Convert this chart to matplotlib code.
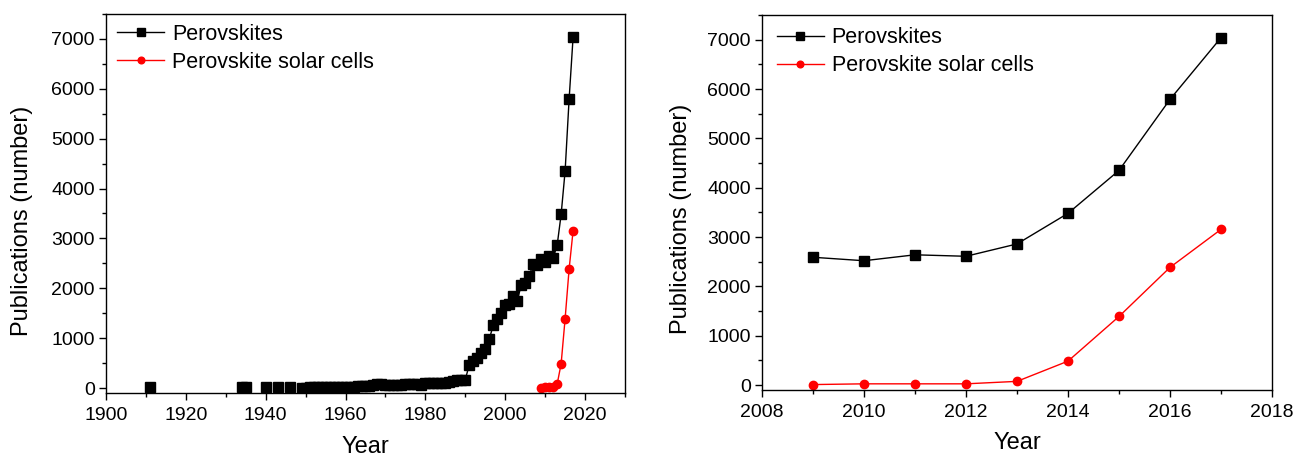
import matplotlib
matplotlib.use('Agg')
import matplotlib.pyplot as plt
from matplotlib.ticker import MultipleLocator

plt.rcParams['font.family'] = ['Liberation Sans', 'DejaVu Sans']

# early, sparse years of perovskite publications (not joined by a line)
early_years = [1911, 1934, 1935, 1940, 1943, 1946]
early_counts = [20, 20, 15, 15, 15, 15]

# continuous record 1949-2008
mid_years = list(range(1949, 2009))
mid_counts = [8, 10, 12, 15, 14, 18, 20, 18, 22, 25, 24, 28, 30, 28, 32, 35, 38, 40,
              70, 72, 75, 65, 60, 65, 70, 68, 72, 75, 78, 80, 55,
              95, 100, 105, 100, 105, 110, 115, 145, 165, 160, 170,
              470, 545, 610, 710, 780, 980, 1260, 1390, 1510, 1660,
              1680, 1840, 1750, 2060, 2100, 2250, 2480, 2470]

# recent years (both panels)
recent_years = [2009, 2010, 2011, 2012, 2013, 2014, 2015, 2016, 2017]
perovskites = [2590, 2520, 2640, 2610, 2860, 3480, 4350, 5790, 7040]
solar_cells = [10, 25, 25, 25, 75, 485, 1390, 2385, 3155]

cont_years = mid_years + recent_years
cont_counts = mid_counts + perovskites

fig = plt.figure(figsize=(12.95, 4.59), dpi=100)
ax1 = fig.add_axes([106/1295, 66/459, 519/1295, 379/459])
ax2 = fig.add_axes([762/1295, 69/459, 510/1295, 375/459])

ax1.plot(early_years, early_counts, ls='none', color='black', marker='s', ms=7)
ax1.plot(cont_years, cont_counts, color='black', lw=1.0, marker='s', ms=7, label='Perovskites')
ax1.plot(recent_years, solar_cells, color='red', lw=1.0, marker='o', ms=6, label='Perovskite solar cells')
ax1.set_xlim(1900, 2030)
ax1.xaxis.set_major_locator(MultipleLocator(20))
ax1.xaxis.set_minor_locator(MultipleLocator(10))

ax2.plot(recent_years, perovskites, color='black', lw=1.0, marker='s', ms=7, label='Perovskites')
ax2.plot(recent_years, solar_cells, color='red', lw=1.0, marker='o', ms=6, label='Perovskite solar cells')
ax2.set_xlim(2008, 2018)
ax2.xaxis.set_major_locator(MultipleLocator(2))
ax2.xaxis.set_minor_locator(MultipleLocator(1))

for ax, lx, leg_x, leg_y, xpad in [(ax1, -0.141, 0.021, 0.974, 9), (ax2, -0.137, 0.029, 0.967, 8)]:
    ax.set_ylim(-100, 7500)
    ax.yaxis.set_major_locator(MultipleLocator(1000))
    ax.yaxis.set_minor_locator(MultipleLocator(500))
    ax.tick_params(which='major', direction='out', length=5, width=1, labelsize=14, pad=3,
                   top=False, right=False)
    ax.tick_params(axis='x', which='major', pad=5)
    ax.tick_params(which='minor', direction='out', length=3, width=1, top=False, right=False)
    for s in ax.spines.values():
        s.set_linewidth(1.0)
    ax.set_ylabel('Publications (number)', fontsize=17)
    ax.yaxis.set_label_coords(lx, 0.455)
    ax.set_xlabel('Year', fontsize=17, labelpad=xpad)
    ax.legend(loc='upper left', bbox_to_anchor=(leg_x, leg_y), frameon=False, fontsize=15.5,
              handlelength=2.2, handletextpad=0.35, labelspacing=0.33, borderpad=0,
              borderaxespad=0, markerscale=0.8)

fig.savefig('out.png', dpi=100)
